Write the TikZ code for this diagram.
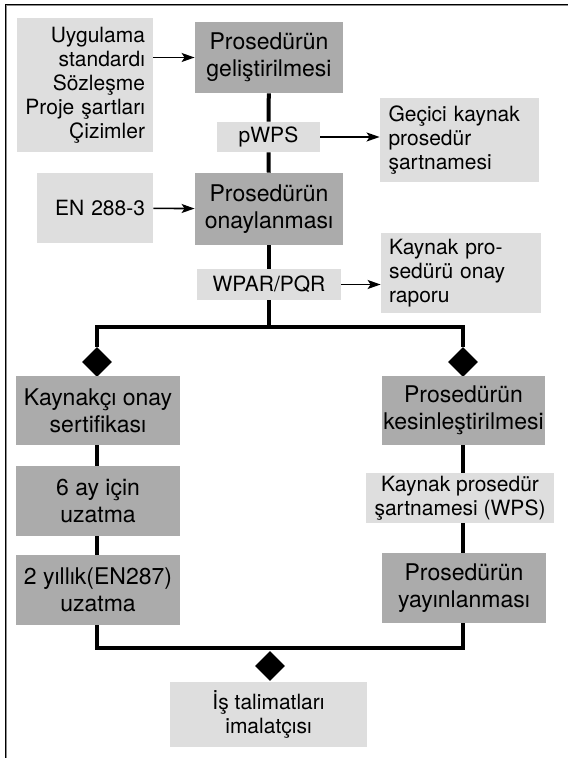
\documentclass[tikz,border=0pt]{standalone}
\usepackage{fontspec}
\setmainfont{TeX Gyre Heros}
\usetikzlibrary{shapes.geometric, arrows.meta}
\tikzset{
procbox/.style={shape=rectangle, fill=black!33, inner sep=0, align=center, font=\fontsize{11.5}{13.5}\selectfont}, infobox/.style={procbox, fill=black!13, font=\fontsize{10.5}{12}\selectfont}, joint/.style={diamond, fill=black, minimum size=15pt, inner sep=0}, flow/.style={line width=2pt, line join=miter}, feed/.style={-{Stealth[length=6.5pt, width=4.5pt, inset=1.5pt]}, line width=0.8pt}}

\begin{document}
\begin{tikzpicture}[x=0.5pt, y=-0.5pt]
\useasboundingbox (0,0) rectangle (568,758);
\draw [line width=0.35pt, double=black!45, double distance=0.4pt] (6,758) -- (6,5) -- (568,5);
% inputs
\node [infobox, text width=60pt, inner xsep=4pt, minimum height=67pt, align=right] at (85,85) (in-1) {Uygulama\\standardı\\Sözleşme\\Proje şartları\\Çizimler};
\node [infobox, text width=50pt, inner xsep=4pt, minimum height=35pt, align=right] at (95,208) (in-2) {EN 288-3};
% main chain
\node [procbox, minimum width=74pt, minimum height=35.5pt] at (269,57.5) (proc-1) {Prosedürün\\geliştirilmesi};
\node [infobox, minimum width=51.5pt, minimum height=15pt] at (268.5,137) (mid-1) {pWPS};
\node [infobox, text width=71pt, inner xsep=4.25pt, minimum height=42pt, align=left] at (459.5,140) (out-1) {Geçici kaynak\\prosedür\\şartnamesi};
\node [procbox, minimum width=74pt, minimum height=36pt] at (269,209) (proc-2) {Prosedürün\\onaylanması};
\node [infobox, minimum width=72pt, minimum height=15.5pt] at (269,284.5) (mid-2) {WPAR/PQR};
\node [infobox, text width=72pt, inner xsep=4pt, minimum height=40pt, align=left] at (461,273) (out-2) {Kaynak pro-\\sedürü onay\\raporu};
\draw [feed] (in-1.east |- proc-1.west) -- (proc-1.west);
\draw [feed] (in-2) -- (proc-2);
\draw [feed] (mid-1.east) -- (mid-1.east -| out-1.west);
\draw [feed] (mid-2.east) -- (mid-2.east -| out-2.west);
\draw [flow] (proc-1) -- (mid-1);
\draw [flow] (mid-1) -- (proc-2);
\draw [flow] (proc-2) -- (mid-2);
% split
\coordinate (split) at (269,327);
\node [joint] at (97,362) (j-l) {};
\node [joint] at (463,362) (j-r) {};
\draw [flow] (mid-2) -- (split);
\draw [flow] (j-l.north) |- (split) -| (j-r.north);
% left branch
\node [procbox, minimum width=82pt, minimum height=34.5pt] at (98,410.5) (left-1) {Kaynakçı onay\\sertifikası};
\node [procbox, minimum width=82pt, minimum height=35pt] at (98,501) (left-2) {6 ay için\\uzatma};
\node [procbox, minimum width=82pt, minimum height=35pt] at (98,590) (left-3) {2 yıllık(EN287)\\uzatma};
\draw [flow] (left-1.south -| j-l) -- (left-2.north -| j-l);
\draw [flow] (left-2.south -| j-l) -- (left-3.north -| j-l);
% right branch
\node [procbox, minimum width=81.5pt, minimum height=34.5pt] at (463.5,410.5) (right-1) {Prosedürün\\kesinleştirilmesi};
\node [infobox, minimum width=94pt, minimum height=25pt] at (460,498) (right-2) {Kaynak prosedür\\şartnamesi (WPS)};
\node [procbox, minimum width=82pt, minimum height=35pt] at (464,588) (right-3) {Prosedürün\\yayınlanması};
\draw [flow] (right-1.south -| j-r) -- (right-2.north -| j-r);
\draw [flow] (right-2.south -| j-r) -- (right-3.north -| j-r);
% merge
\coordinate (merge) at (270,648);
\node [joint] at (270,666) (j-b) {};
\node [infobox, minimum width=98.5pt, minimum height=32.5pt] at (268.5,714.5) (out-3) {İş talimatları\\imalatçısı};
\draw [flow] (left-3.south -| j-l) |- (merge) -| (right-3.south -| j-r);
\end{tikzpicture}
\end{document}
